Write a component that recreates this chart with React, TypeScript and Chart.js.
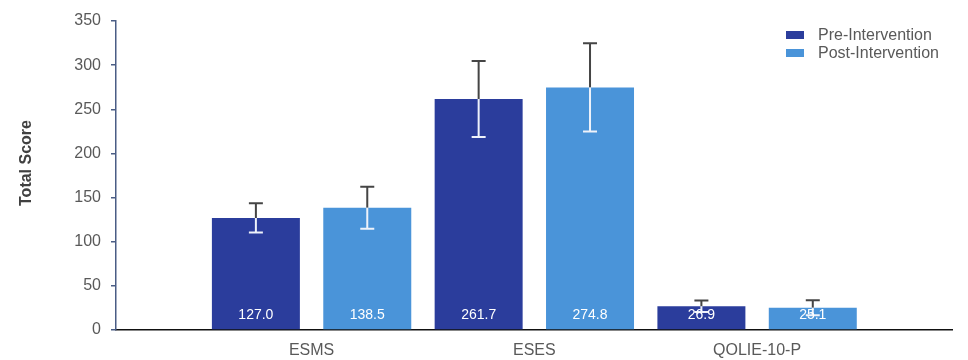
import React, { useEffect, useRef } from "react";
import { Chart, registerables } from "chart.js";

Chart.register(...registerables);

const categories = ["ESMS", "ESES", "QOLIE-10-P"];
const seriesNames = ["Pre-Intervention", "Post-Intervention"];
const preValues = [127.0, 261.7, 26.9];
const postValues = [138.5, 274.8, 25.1];
const preErrors = [16.5, 43, 6.5];
const postErrors = [23.8, 50, 8.5];
const yTicks = [0, 50, 100, 150, 200, 250, 300, 350];
const yTitle = "Total Score";

const PRE_COLOR = "#2b3d9c";
const POST_COLOR = "#4a94d9";
const colors = [PRE_COLOR, POST_COLOR];
const errorsBySeries = [preErrors, postErrors];
const FONT = "'Liberation Sans', Arial, sans-serif";

const overlayPlugin = {
  id: "overlay",
  afterDatasetsDraw(chart: any) {
    const ctx = chart.ctx;
    const yScale = chart.scales.y;
    ctx.save();
    chart.data.datasets.forEach((ds: any, di: number) => {
      const meta = chart.getDatasetMeta(di);
      meta.data.forEach((bar: any, i: number) => {
        const v = ds.data[i].y;
        const err = errorsBySeries[di][i];
        const x = bar.x;
        const yTop = yScale.getPixelForValue(v + err);
        const yVal = yScale.getPixelForValue(v);
        const yLow = yScale.getPixelForValue(v - err);
        const cap = 7;
        ctx.lineWidth = 2;
        ctx.strokeStyle = "#454545";
        ctx.beginPath();
        ctx.moveTo(x, yTop);
        ctx.lineTo(x, yVal);
        ctx.moveTo(x - cap, yTop);
        ctx.lineTo(x + cap, yTop);
        ctx.stroke();
        ctx.strokeStyle = "#eef2fa";
        ctx.beginPath();
        ctx.moveTo(x, yVal);
        ctx.lineTo(x, yLow);
        ctx.moveTo(x - cap, yLow);
        ctx.lineTo(x + cap, yLow);
        ctx.stroke();
        ctx.fillStyle = "#ffffff";
        ctx.font = `14px ${FONT}`;
        ctx.textAlign = "center";
        ctx.textBaseline = "middle";
        ctx.fillText(v.toFixed(1), x, yScale.getPixelForValue(0) - 15);
      });
    });
    const lx = 786;
    const rows = [35, 53];
    ctx.font = `16px ${FONT}`;
    ctx.textAlign = "left";
    ctx.textBaseline = "middle";
    seriesNames.forEach((name, k) => {
      ctx.fillStyle = colors[k];
      ctx.fillRect(lx, rows[k] - 4, 18, 8);
      ctx.fillStyle = "#595959";
      ctx.fillText(name, lx + 32, rows[k] + 1);
    });
    // y axis title
    ctx.translate(27, 163);
    ctx.rotate(-Math.PI / 2);
    ctx.font = `bold 16px ${FONT}`;
    ctx.fillStyle = "#404040";
    ctx.textAlign = "center";
    ctx.textBaseline = "middle";
    ctx.fillText(yTitle, 0, 0);
    ctx.restore();
  },
};

export default function App() {
  const canvasRef = useRef<HTMLCanvasElement | null>(null);

  useEffect(() => {
    if (!canvasRef.current) return;
    const chart = new Chart(canvasRef.current, {
      type: "bar",
      data: {
        datasets: [
          {
            label: seriesNames[0],
            data: preValues.map((v, i) => ({ x: i, y: v })),
            backgroundColor: PRE_COLOR,
            categoryPercentage: 1.0,
            barPercentage: 0.79,
          },
          {
            label: seriesNames[1],
            data: postValues.map((v, i) => ({ x: i, y: v })),
            backgroundColor: POST_COLOR,
            categoryPercentage: 1.0,
            barPercentage: 0.79,
          },
        ],
      },
      options: {
        animation: false,
        responsive: false,
        maintainAspectRatio: false,
        layout: { padding: { top: 21, right: 16, left: 0, bottom: 0 } },
        plugins: {
          legend: { display: false },
          tooltip: { enabled: false },
        },
        scales: {
          x: {
            type: "linear",
            offset: false,
            min: -0.878,
            max: 2.875,
            afterFit: (s: any) => {
              s.height = 30;
            },
            afterBuildTicks: (s: any) => {
              s.ticks = categories.map((_, i) => ({ value: i }));
            },
            ticks: {
              callback: (v: any) => categories[v] ?? "",
              color: "#595959",
              font: { size: 16, family: FONT },
              padding: 11,
              maxRotation: 0,
              autoSkip: false,
            },
            grid: { display: false, drawTicks: false },
            border: { display: true, color: "#111111", width: 1.5 },
          },
          y: {
            min: 0,
            max: 350,
            afterBuildTicks: (s: any) => {
              s.ticks = yTicks.map((v) => ({ value: v }));
            },
            afterFit: (s: any) => {
              s.width = 116;
            },
            ticks: {
              color: "#595959",
              font: { size: 16, family: FONT },
              padding: 10,
            },
            grid: {
              drawOnChartArea: false,
              drawTicks: true,
              tickLength: 5,
              color: "#4a5d85",
              lineWidth: 1.5,
            },
            border: { display: true, color: "#4a5d85", width: 1.5 },
          },
        },
      },
      plugins: [overlayPlugin],
    } as any);
    return () => chart.destroy();
  }, []);

  return (
    <div style={{ position: "absolute", left: 0, top: 0, width: 968, height: 360, background: "#fff" }}>
      <canvas ref={canvasRef} width={968} height={360} style={{ width: 968, height: 360 }} />
    </div>
  );
}
